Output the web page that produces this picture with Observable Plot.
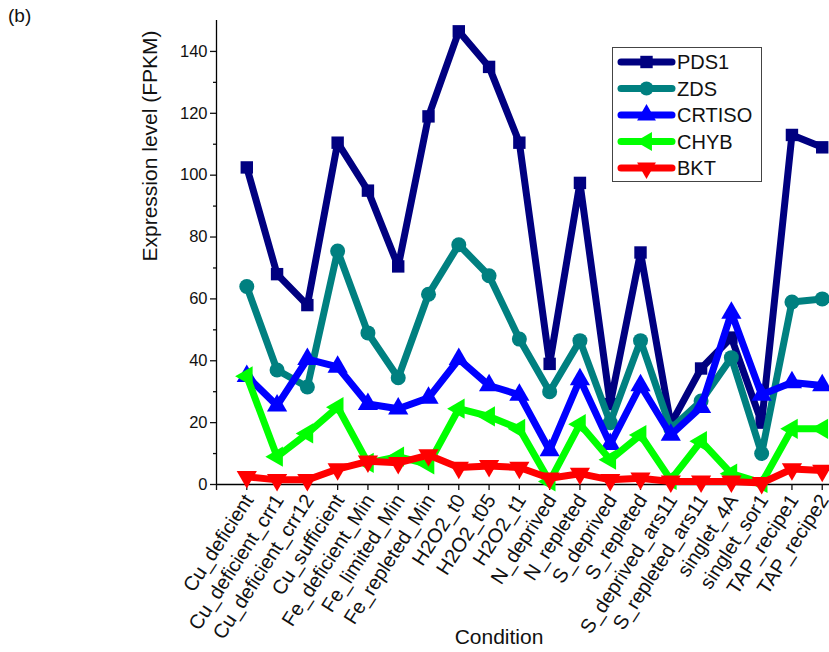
<!DOCTYPE html>
<html><head><meta charset="utf-8">
<script src="https://cdn.jsdelivr.net/npm/d3@7"></script>
<script src="https://cdn.jsdelivr.net/npm/@observablehq/plot@0.6"></script>
<style>
body{margin:0;background:#fff;font-family:"Liberation Sans",Arial,sans-serif;}
#wrap{position:relative;width:829px;height:652px;overflow:hidden;}
#tag{position:absolute;left:8px;top:5px;font-size:19px;color:#111;}
#legend{position:absolute;left:612px;top:47px;}
</style></head><body>
<div id="wrap"><div id="tag">(b)</div></div>
<script>
const conditions = ["Cu_deficient","Cu_deficient_crr1","Cu_deficient_crr12","Cu_sufficient","Fe_deficient_Min","Fe_limited_Min","Fe_repleted_Min","H2O2_t0","H2O2_t05","H2O2_t1","N_deprived","N_repleted","S_deprived","S_repleted","S_deprived_ars11","S_repleted_ars11","singlet_4A","singlet_sor1","TAP_recipe1","TAP_recipe2"];
const genes = ["PDS1","ZDS","CRTISO","CHYB","BKT"];
const pds1   = [102.5, 68, 58, 110.5, 95, 70.5, 119, 146.5, 135, 110.5, 39, 97.5, 26, 75, 19.5, 37.5, 47.5, 20, 113, 109];
const zds    = [64, 37, 31.5, 75.5, 49, 34.5, 61.5, 77.5, 67.5, 47, 30, 46.5, 20, 46.5, 18, 27, 41, 10, 59, 60];
const crtiso = [35, 25.5, 40.5, 38, 26, 24.5, 28, 40.5, 32, 29, 11, 34, 13, 32, 16, 25, 55.5, 29, 33, 32];
const chyb   = [35, 9, 16.5, 25, 7, 9, 6.5, 24.5, 22, 18, 1, 19.5, 8, 16, 1.5, 14, 3.5, 0.5, 18, 18];
const bkt    = [2.5, 1.5, 1.5, 5, 7.5, 7, 9.5, 5.5, 6, 5.5, 2, 3.5, 1.5, 2, 1, 1, 1, 0.5, 5, 4.5];
const yTicks = [0, 20, 40, 60, 80, 100, 120, 140];

const seriesValues = [pds1, zds, crtiso, chyb, bkt];
const colors = ["#000080", "#008080", "#0000ff", "#00ff00", "#ff0000"];
const symbols = ["square", "circle", "triangle", "triangle", "triangle"];
const rotations = [0, 0, 0, -90, 180];

const series = genes.map((g, k) => ({
  name: g, color: colors[k], symbol: symbols[k], rotate: rotations[k],
  data: seriesValues[k].map((v, i) => ({gene: g, i: i + 1, value: v}))
}));

const font = "'Liberation Sans', Arial, sans-serif";
const marks = [
  Plot.ruleY([0], {stroke: "#000", strokeWidth: 1.3}),
  Plot.ruleX([0], {stroke: "#000", strokeWidth: 1.3}),
  Plot.axisY({ticks: d3.range(10, 150, 20), tickSize: 3, tickFormat: () => "", label: null, strokeWidth: 1.3}),
  Plot.axisY({ticks: yTicks, tickSize: 6, tickFormat: () => "", label: null, strokeWidth: 1.3}),
  Plot.axisX({ticks: d3.range(0, 21), tickSize: 6, tickFormat: () => "", label: null, strokeWidth: 1.3}),
  Plot.text(yTicks, {y: d => d, text: d => String(d), frameAnchor: "left", textAnchor: "end", dx: -9, fontSize: 16.5, fill: "#111"}),
  Plot.text(conditions, {x: (d, i) => i + 1, text: d => d, frameAnchor: "bottom", rotate: -57, textAnchor: "end",
    lineAnchor: "middle", dx: 2, dy: 12, fontSize: 20, fill: "#111"}),
  Plot.text(["Expression level (FPKM)"], {frameAnchor: "left", rotate: -90, dx: -66, dy: 9, fontSize: 21, fill: "#111"}),
  Plot.text(["Condition"], {frameAnchor: "bottom", dy: 159, dx: -24, fontSize: 21, fill: "#111"})
];
for (const s of series) {
  marks.push(Plot.line(s.data, {x: "i", y: "value", stroke: s.color, strokeWidth: 7, strokeLinejoin: "round", strokeLinecap: "round"}));
  marks.push(Plot.dot(s.data, {x: "i", y: "value", symbol: s.symbol, fill: s.color, stroke: "none", r: s.symbol === "square" ? 7 : 7.5, rotate: s.rotate}));
}

const chart = Plot.plot({
  width: 829, height: 652,
  marginLeft: 216, marginRight: 0, marginTop: 20, marginBottom: 168,
  style: {fontFamily: font, color: "#111", background: "#fff", overflow: "visible"},
  x: {domain: [0, 20.24], axis: null},
  y: {domain: [0, 150], axis: null},
  marks
});
document.getElementById("wrap").appendChild(chart);

// legend
const lg = d3.select("#wrap").append("svg").attr("id", "legend").attr("width", 151).attr("height", 136);
lg.append("rect").attr("x", 0.5).attr("y", 0.5).attr("width", 149).attr("height", 134)
  .attr("fill", "#fff").attr("stroke", "#444").attr("stroke-width", 1);
series.forEach((s, k) => {
  const y = 15 + k * 26.5;
  lg.append("line").attr("x1", 9).attr("x2", 60).attr("y1", y).attr("y2", y)
    .attr("stroke", s.color).attr("stroke-width", 7).attr("stroke-linecap", "round");
  const sym = s.symbol === "square" ? d3.symbolSquare : s.symbol === "circle" ? d3.symbolCircle : d3.symbolTriangle;
  lg.append("path").attr("d", d3.symbol(sym, Math.PI * 7 * 7)())
    .attr("transform", `translate(34.5,${y}) rotate(${s.rotate})`).attr("fill", s.color);
  lg.append("text").attr("x", 65).attr("y", y).attr("dy", "0.36em")
    .attr("font-size", 20).attr("font-family", font).attr("fill", "#111").text(s.name);
});
</script>
</body></html>
